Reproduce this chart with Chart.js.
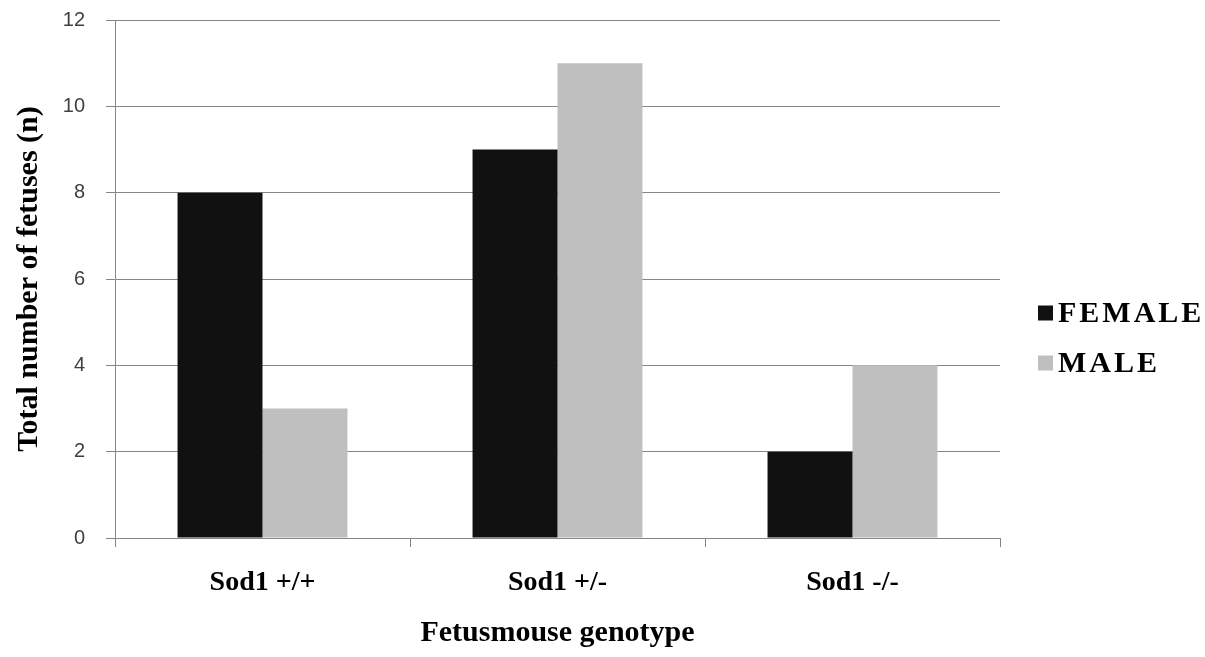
<!DOCTYPE html>
<html>
<head>
<meta charset="utf-8">
<script src="https://cdn.jsdelivr.net/npm/chart.js@4/dist/chart.umd.min.js"></script>
<style>
  html, body { margin: 0; padding: 0; background: #fff; }
  #wrap { width: 1205px; height: 657px; }
</style>
</head>
<body>
<div id="wrap"><canvas id="c" width="1205" height="657"></canvas></div>
<script>
// Fetus counts by genotype and sex
const genotypes = ['Sod1 +/+', 'Sod1 +/-', 'Sod1 -/-'];
const femaleCounts = [8, 9, 2];
const maleCounts = [3, 11, 4];
const yTicks = [0, 2, 4, 6, 8, 10, 12];

const serif = '"Liberation Serif", "Times New Roman", serif';
const gridGray = '#868686';

// Slightly wider letter spacing for all canvas text
const spacingPlugin = {
  id: 'spacing',
  beforeInit(chart) { chart.ctx.letterSpacing = '1px'; }
};

// Legend drawn to the right of the plot area, from the dataset list
const sideLegend = {
  id: 'sideLegend',
  afterDraw(chart) {
    const { ctx, chartArea } = chart;
    const x = chartArea.right + 38;
    const y0 = (chartArea.top + chartArea.bottom) / 2 + 34;
    const box = 15;
    ctx.save();
    ctx.font = 'bold 30px ' + serif;
    ctx.letterSpacing = '3px';
    ctx.textBaseline = 'middle';
    ctx.textAlign = 'left';
    chart.data.datasets.forEach((ds, i) => {
      const cy = y0 + i * 50;
      ctx.fillStyle = ds.backgroundColor;
      ctx.fillRect(x, cy - box / 2, box, box);
      ctx.fillStyle = '#000';
      ctx.fillText(ds.label, x + box + 5, cy + 1);
    });
    ctx.restore();
  }
};

new Chart(document.getElementById('c'), {
  type: 'bar',
  data: {
    labels: genotypes,
    datasets: [
      { label: 'FEMALE', data: femaleCounts, backgroundColor: '#111111', borderWidth: 0 },
      { label: 'MALE', data: maleCounts, backgroundColor: '#bfbfbf', borderWidth: 0 }
    ]
  },
  plugins: [spacingPlugin, sideLegend],
  options: {
    responsive: false,
    animation: false,
    layout: { padding: { top: 20, right: 205, left: 0, bottom: 0 } },
    datasets: { bar: { categoryPercentage: 0.576, barPercentage: 1.0 } },
    plugins: {
      tooltip: { enabled: false },
      legend: { display: false }
    },
    scales: {
      x: {
        afterFit: (s) => { s.height = 119; },
        grid: {
          offset: true,
          drawOnChartArea: false,
          drawTicks: true,
          tickLength: 9,
          color: gridGray
        },
        border: { color: gridGray, width: 1 },
        ticks: {
          color: '#000',
          padding: 19,
          font: { family: serif, weight: 'bold', size: 28, lineHeight: 1.2 }
        },
        title: {
          display: true,
          text: 'Fetusmouse genotype',
          color: '#000',
          padding: { top: 0, bottom: 6 },
          font: { family: serif, weight: 'bold', size: 30, lineHeight: 1.2 }
        }
      },
      y: {
        min: 0,
        max: 12,
        afterFit: (s) => { s.width = 115; s.paddingTop = 0; s.paddingBottom = 0; },
        afterBuildTicks: (axis) => { axis.ticks = yTicks.map(v => ({ value: v })); },
        grid: {
          color: gridGray,
          tickLength: 9,
          drawTicks: true
        },
        border: { color: gridGray, width: 1 },
        ticks: {
          color: '#404040',
          padding: 21,
          font: { family: '"Liberation Sans", Arial, sans-serif', size: 20 }
        },
        title: {
          display: true,
          text: 'Total number of fetuses (n)',
          color: '#000',
          padding: { top: 11, bottom: 0 },
          font: { family: serif, weight: 'bold', size: 30, lineHeight: 1.2 }
        }
      }
    }
  }
});
</script>
</body>
</html>
